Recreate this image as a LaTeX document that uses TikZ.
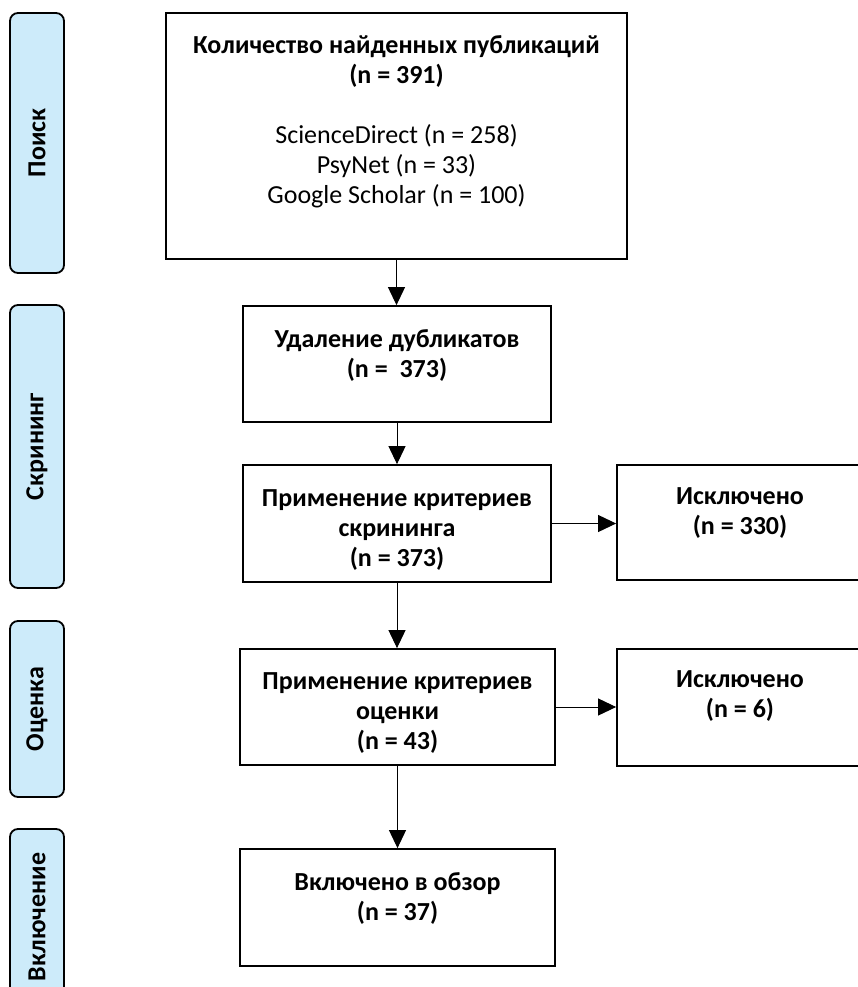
\documentclass[tikz,border=0pt]{standalone}
\usepackage{fontspec}
\setmainfont{Carlito}
\usetikzlibrary{arrows.meta}
\definecolor{phase}{RGB}{205,235,250}
\begin{document}
\begin{tikzpicture}[x=1pt,y=-1pt,
  phasebox/.style={draw, line width=1.8pt, fill=phase, rounded corners=8pt, rotate=90,
    minimum height=54pt, inner sep=0pt, font=\bfseries\fontsize{26}{30}\selectfont},
  stepbox/.style={draw, line width=1.8pt, fill=white, rectangle, inner sep=0pt},
  bt/.style={font=\bfseries\fontsize{26}{30}\selectfont, align=center, anchor=north, inner sep=0pt},
  conn/.style={line width=1pt, -{Triangle[length=18pt,width=17pt]}}
]
\useasboundingbox (0,0) rectangle (858,987);
\clip (0,0) rectangle (858,987);
\fill[white] (0,0) rectangle (858,987);

% phase bars
\node[phasebox, minimum width=260pt] (p1) at (37,143) {Поиск};
\node[phasebox, minimum width=283pt] (p2) at (37,446.5) {Скрининг};
\node[phasebox, minimum width=176pt] (p3) at (37,709) {Оценка};
\node[phasebox, minimum width=176pt] (p4) at (37,917) {Включение};

% step boxes
\node[stepbox, minimum width=461pt, minimum height=246pt] (top) at (396.5,136) {};
\node[stepbox, minimum width=308pt, minimum height=116pt] (del) at (397,364) {};
\node[stepbox, minimum width=308pt, minimum height=117pt] (scr) at (397,523.5) {};
\node[stepbox, minimum width=246pt, minimum height=115pt] (ex1) at (740,522.5) {};
\node[stepbox, minimum width=315pt, minimum height=116pt] (ev) at (397.5,707) {};
\node[stepbox, minimum width=246pt, minimum height=117pt] (ex2) at (740,707.5) {};
\node[stepbox, minimum width=315pt, minimum height=117pt] (inc) at (397.5,907.5) {};

% texts
\node[bt] (ttop) at (396.5,35) {Количество найденных публикаций\\(n = 391)\\[30pt]
  \mdseries ScienceDirect (n = 258)\\\mdseries PsyNet (n = 33)\\\mdseries Google Scholar (n = 100)};
\node[bt] (tdel) at (397,329) {Удаление дубликатов\\(n =~ 373)};
\node[bt] (tscr) at (397,489) {Применение критериев\\скрининга\\(n = 373)};
\node[bt] (tex1) at (740,487) {Исключено\\(n = 330)};
\node[bt] (tev) at (397.5,672) {Применение критериев\\оценки\\(n = 43)};
\node[bt] (tex2) at (740,670) {Исключено\\(n = 6)};
\node[bt] (tinc) at (397.5,872) {Включено в обзор\\(n = 37)};

% connectors
\draw[conn] (top.south) -- (top.south |- del.north);
\draw[conn] (del.south) -- (scr.north);
\draw[conn] (scr.south) -- (scr.south |- ev.north);
\draw[conn] (ev.south) -- (inc.north);
\draw[conn] (scr.east) -- (scr.east -| ex1.west);
\draw[conn] (ev.east) -- (ev.east -| ex2.west);
\end{tikzpicture}
\end{document}
